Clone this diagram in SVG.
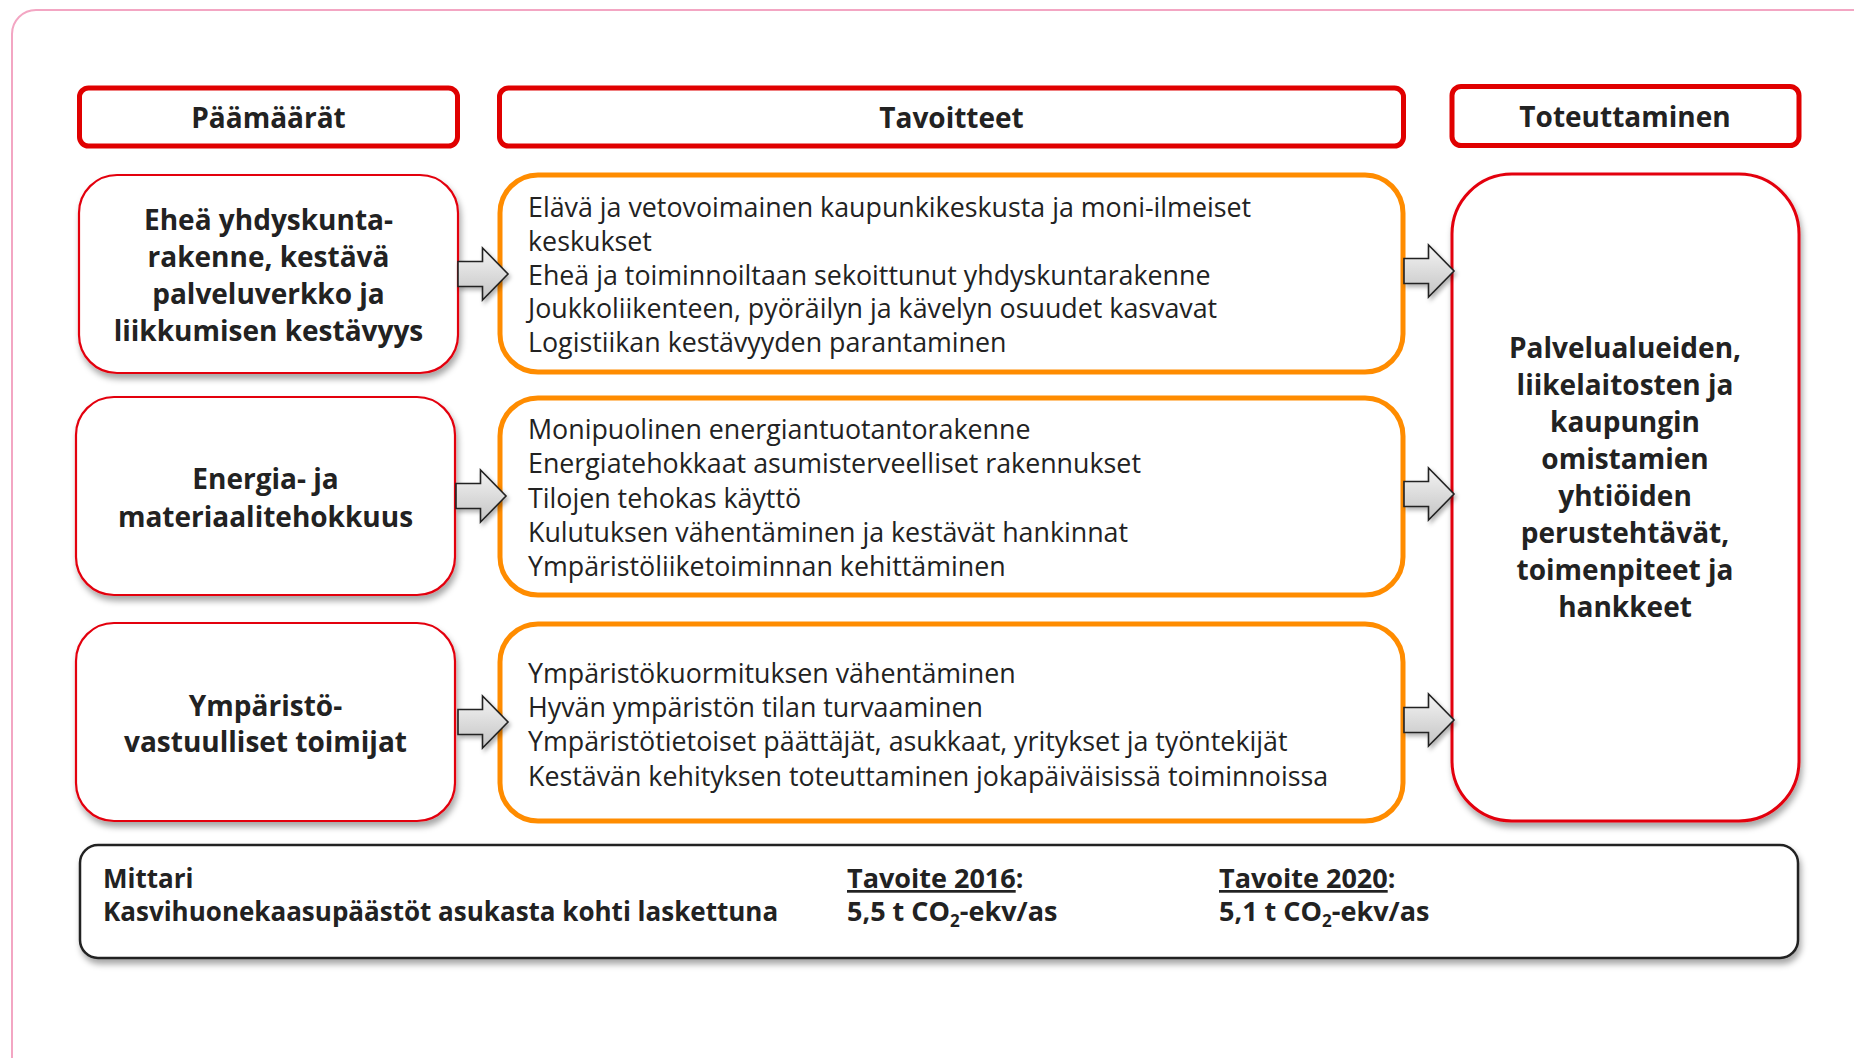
<svg xmlns="http://www.w3.org/2000/svg" xmlns:xlink="http://www.w3.org/1999/xlink" width="1854" height="1058" viewBox="0 0 1854 1058">
<style>
.hdr{fill:#fff;stroke:#e00000;stroke-width:5}
.goal{fill:#fff;stroke:#e3000f;stroke-width:2.2}
.obj{fill:#fff;stroke:#ff8c00;stroke-width:5}
.b{font-family:"Open Sans","Liberation Sans",sans-serif;font-weight:700;font-size:28px;fill:#222;text-anchor:middle}
.r{font-family:"Open Sans","Liberation Sans",sans-serif;font-weight:400;font-size:26.8px;fill:#222}
.m{font-family:"Open Sans","Liberation Sans",sans-serif;font-weight:700;font-size:26px;fill:#222}
.v{font-size:27px}
.arr{fill:url(#ag);stroke:#222;stroke-width:1.6;stroke-linejoin:miter}
</style>
<defs>
<linearGradient id="ag" x1="0" y1="0" x2="0" y2="1">
<stop offset="0" stop-color="#f4f4f4"/>
<stop offset="1" stop-color="#c4c4c4"/>
</linearGradient>
<filter id="sh" x="-10%" y="-10%" width="130%" height="130%">
<feDropShadow dx="2" dy="5" stdDeviation="3" flood-color="#000" flood-opacity="0.35"/>
</filter>
<filter id="ash" x="-20%" y="-20%" width="150%" height="150%">
<feDropShadow dx="2" dy="3" stdDeviation="2" flood-color="#000" flood-opacity="0.3"/>
</filter>
<path id="arrow" class="arr" d="M0,-12.5 H24.5 V-26 L50,0 L24.5,26 V12.5 H0 Z"/>
</defs>
<rect x="12" y="10" width="1900" height="1100" rx="24" fill="#fff" stroke="#f3a6c3" stroke-width="2"/>

<g id="hdr-paamaarat">
<rect class="hdr" x="79.5" y="88" width="378" height="58" rx="9"/>
<text class="b" x="268.5" y="128">Päämäärät</text>
</g>
<g id="hdr-tavoitteet">
<rect class="hdr" x="499.5" y="88" width="904" height="58" rx="9"/>
<text class="b" x="951.5" y="128">Tavoitteet</text>
</g>
<g id="hdr-toteuttaminen">
<rect class="hdr" x="1452" y="86.5" width="347" height="59" rx="9"/>
<text class="b" x="1625" y="127">Toteuttaminen</text>
</g>

<g id="goal1">
<rect class="goal" x="79" y="175" width="379" height="198" rx="38" filter="url(#sh)"/>
<text class="b" x="268.5" y="230">Eheä yhdyskunta-</text>
<text class="b" x="268.5" y="267">rakenne, kestävä</text>
<text class="b" x="268.5" y="304">palveluverkko ja</text>
<text class="b" x="268.5" y="341">liikkumisen kestävyys</text>
</g>
<g id="goal2">
<rect class="goal" x="76" y="397" width="379" height="198" rx="38" filter="url(#sh)"/>
<text class="b" x="265.5" y="489">Energia- ja</text>
<text class="b" x="265.5" y="527">materiaalitehokkuus</text>
</g>
<g id="goal3">
<rect class="goal" x="76" y="623" width="379" height="198" rx="38" filter="url(#sh)"/>
<text class="b" x="265.5" y="716">Ympäristö-</text>
<text class="b" x="265.5" y="752">vastuulliset toimijat</text>
</g>

<g id="obj1">
<rect class="obj" x="500" y="175" width="903" height="197" rx="38"/>
<text class="r" x="528" y="217">Elävä ja vetovoimainen kaupunkikeskusta ja moni-ilmeiset</text>
<text class="r" x="528" y="251">keskukset</text>
<text class="r" x="528" y="284.5">Eheä ja toiminnoiltaan sekoittunut yhdyskuntarakenne</text>
<text class="r" x="528" y="318">Joukkoliikenteen, pyöräilyn ja kävelyn osuudet kasvavat</text>
<text class="r" x="528" y="352">Logistiikan kestävyyden parantaminen</text>
</g>
<g id="obj2">
<rect class="obj" x="500" y="398" width="903" height="197" rx="38"/>
<text class="r" x="528" y="439">Monipuolinen energiantuotantorakenne</text>
<text class="r" x="528" y="473">Energiatehokkaat asumisterveelliset rakennukset</text>
<text class="r" x="528" y="507.5">Tilojen tehokas käyttö</text>
<text class="r" x="528" y="542">Kulutuksen vähentäminen ja kestävät hankinnat</text>
<text class="r" x="528" y="576">Ympäristöliiketoiminnan kehittäminen</text>
</g>
<g id="obj3">
<rect class="obj" x="500" y="624" width="903" height="197" rx="38"/>
<text class="r" x="528" y="683">Ympäristökuormituksen vähentäminen</text>
<text class="r" x="528" y="717">Hyvän ympäristön tilan turvaaminen</text>
<text class="r" x="528" y="751">Ympäristötietoiset päättäjät, asukkaat, yritykset ja työntekijät</text>
<text class="r" x="528" y="786">Kestävän kehityksen toteuttaminen jokapäiväisissä toiminnoissa</text>
</g>

<g id="impl">
<rect x="1452" y="174" width="347" height="647" rx="60" fill="#fff" stroke="#e3000f" stroke-width="3" filter="url(#sh)"/>
<text class="b" x="1625" y="358">Palvelualueiden,</text>
<text class="b" x="1625" y="395">liikelaitosten ja</text>
<text class="b" x="1625" y="432">kaupungin</text>
<text class="b" x="1625" y="469">omistamien</text>
<text class="b" x="1625" y="506">yhtiöiden</text>
<text class="b" x="1625" y="543">perustehtävät,</text>
<text class="b" x="1625" y="580">toimenpiteet ja</text>
<text class="b" x="1625" y="617">hankkeet</text>
</g>

<g id="connectors" filter="url(#ash)">
<use xlink:href="#arrow" x="458" y="274"/>
<use xlink:href="#arrow" x="456" y="496"/>
<use xlink:href="#arrow" x="458" y="722"/>
<use xlink:href="#arrow" x="1404" y="271"/>
<use xlink:href="#arrow" x="1404" y="494"/>
<use xlink:href="#arrow" x="1404" y="720"/>
</g>

<g id="metric">
<rect x="80" y="845" width="1718" height="113" rx="18" fill="#fff" stroke="#222" stroke-width="2.5" filter="url(#sh)"/>
<text class="m" x="103" y="888">Mittari</text>
<text class="m" x="103" y="921">Kasvihuonekaasupäästöt asukasta kohti laskettuna</text>
<text class="m v" x="847" y="888"><tspan text-decoration="underline">Tavoite 2016</tspan>:</text>
<text class="m v" x="847" y="921">5,5 t CO<tspan font-size="17" dy="6">2</tspan><tspan dy="-6">-ekv/as</tspan></text>
<text class="m v" x="1219" y="888"><tspan text-decoration="underline">Tavoite 2020</tspan>:</text>
<text class="m v" x="1219" y="921">5,1 t CO<tspan font-size="17" dy="6">2</tspan><tspan dy="-6">-ekv/as</tspan></text>
</g>
</svg>
